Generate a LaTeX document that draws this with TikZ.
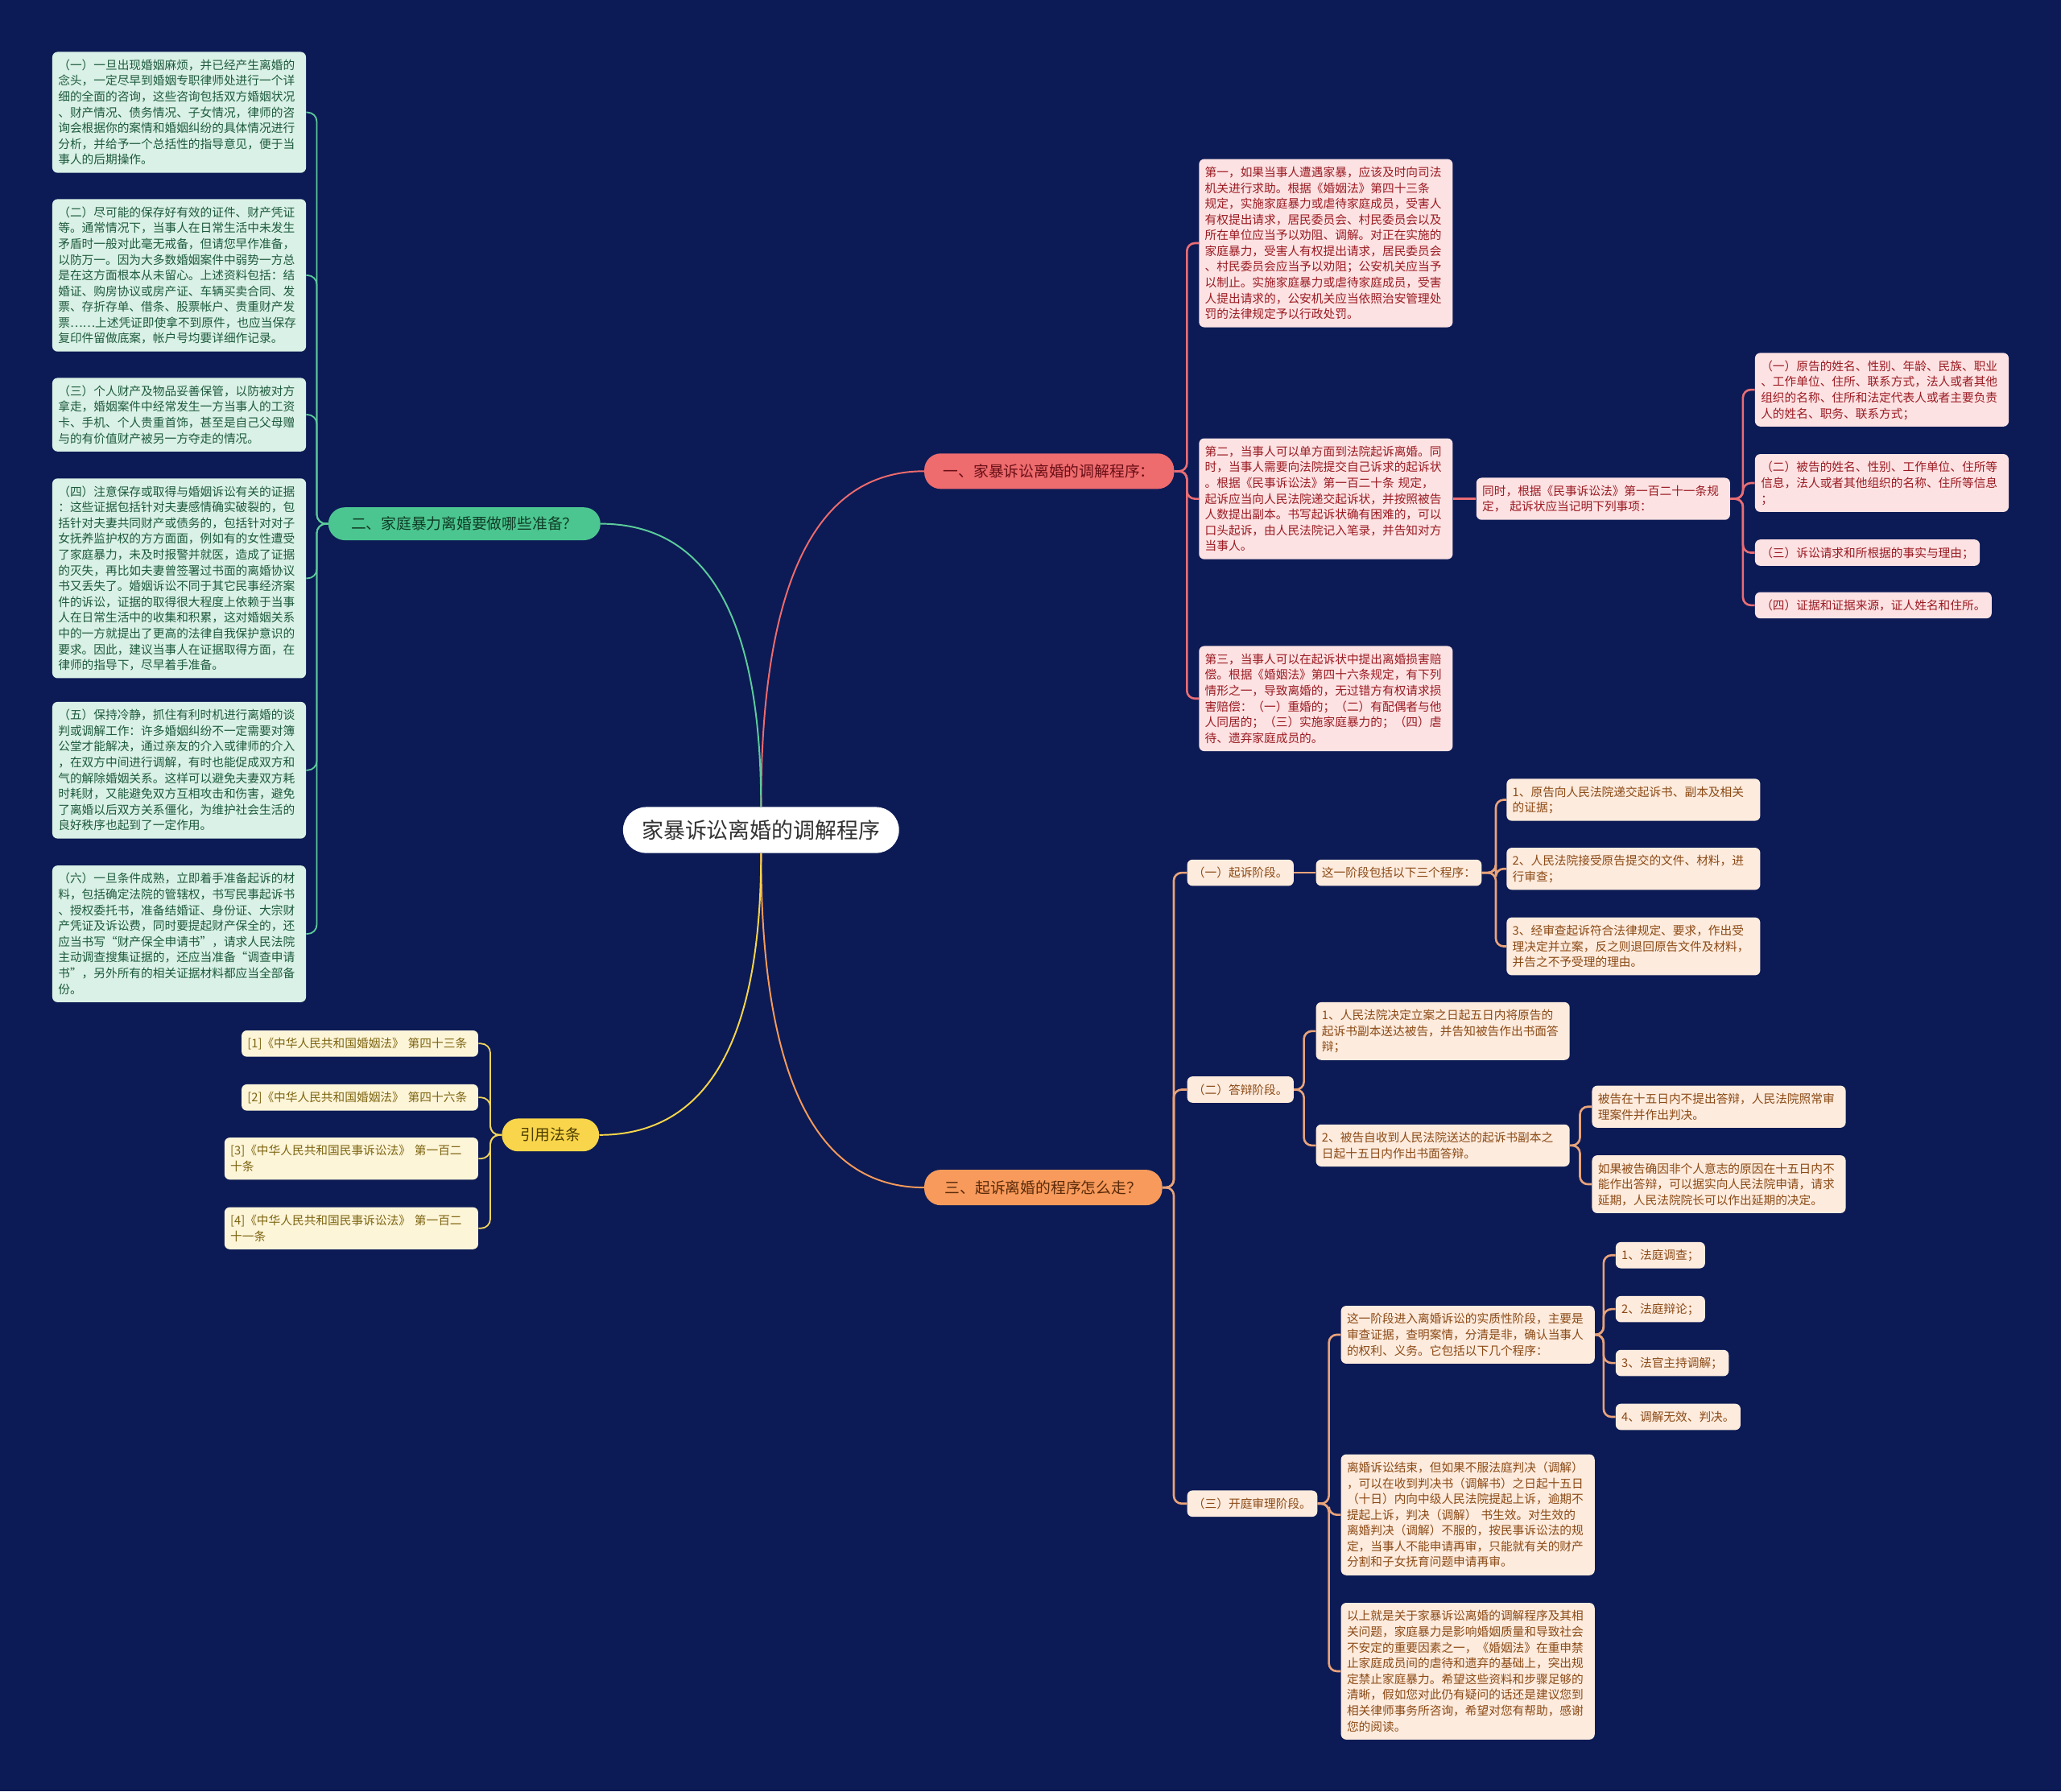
\documentclass[tikz,border=0pt]{standalone}
\usepackage{fontspec}
\setmainfont{Noto Sans CJK SC}
\usetikzlibrary{calc}
\definecolor{bg}{HTML}{0C1B55}
\definecolor{roottext}{HTML}{333333}
\definecolor{redmain}{HTML}{EE6B6E}
\definecolor{redbt}{HTML}{6A0F16}
\definecolor{greenmain}{HTML}{4CC690}
\definecolor{greenbt}{HTML}{0F3D27}
\definecolor{orangemain}{HTML}{F79A5B}
\definecolor{orangebt}{HTML}{5A2A0A}
\definecolor{yellowmain}{HTML}{F8D54A}
\definecolor{yellowbt}{HTML}{4D3D00}
\definecolor{rfill}{HTML}{FDE2E3}
\definecolor{rtext}{HTML}{9A1B22}
\definecolor{gfill}{HTML}{D9F1E6}
\definecolor{gtext}{HTML}{1E5A3D}
\definecolor{ofill}{HTML}{FDEBDD}
\definecolor{otext}{HTML}{8B4A16}
\definecolor{yfill}{HTML}{FDF5D8}
\definecolor{ytext}{HTML}{7D6512}
\definecolor{rline}{HTML}{E96D74}
\definecolor{gline}{HTML}{5CCB9B}
\definecolor{oline}{HTML}{E9A37A}
\definecolor{yline}{HTML}{F3D45B}
\newcommand{\boxstrut}{\rule[-2.6pt]{0pt}{12pt}}
\begin{document}
\begin{tikzpicture}[x=1pt,y=-1pt,
  rootnode/.style={fill=white, text=roottext, rounded corners=17.5pt, minimum width=210pt, minimum height=35pt, inner sep=0pt, font=\fontsize{16.5}{19}\selectfont},
  branch/.style={rounded corners=12.5pt, minimum height=25pt, inner sep=0pt, font=\fontsize{11.5}{14}\selectfont},
  box/.style={rounded corners=4pt, inner xsep=4.5pt, inner ysep=4pt, font=\fontsize{9}{12}\selectfont, align=left, execute at begin node=\boxstrut, execute at end node=\boxstrut},
  wbox/.style={box, text width=184pt},
  gbox/.style={fill=gfill, text=gtext},
  rbox/.style={fill=rfill, text=rtext},
  obox/.style={fill=ofill, text=otext},
  ybox/.style={fill=yfill, text=ytext},
  rootline/.style={line width=1.2pt},
  gconn/.style={draw=gline, line width=1.1pt, rounded corners=7pt},
  yconn/.style={draw=yline, line width=1.1pt, rounded corners=7pt},
  rconn/.style={draw=rline, line width=1.6pt, rounded corners=6pt},
  oconn/.style={draw=oline, line width=1.6pt, rounded corners=6pt}
]
\fill[bg] (0,0) rectangle (1568,1363);
\useasboundingbox (0,0) rectangle (1568,1363);

% root and main branches
\node[rootnode] (root) at (579,631.5) {家暴诉讼离婚的调解程序};
\node[branch, fill=redmain, text=redbt, minimum width=190pt, minimum height=27pt, anchor=west] (b1) at (703,358.5) {一、家暴诉讼离婚的调解程序：};
\node[branch, fill=greenmain, text=greenbt, minimum width=207pt, anchor=east] (b2) at (457,398.5) {二、家庭暴力离婚要做哪些准备？};
\node[branch, fill=orangemain, text=orangebt, minimum width=181pt, minimum height=27pt, anchor=west] (b3) at (703,903.5) {三、起诉离婚的程序怎么走？};
\node[branch, fill=yellowmain, text=yellowbt, minimum width=74pt, anchor=east] (b4) at (456,863.5) {引用法条};

% green children
\node[wbox, gbox, anchor=east] (g1) at (233,85.5) {（一）一旦出现婚姻麻烦，并已经产生离婚的\\念头，一定尽早到婚姻专职律师处进行一个详\\细的全面的咨询，这些咨询包括双方婚姻状况\\、财产情况、债务情况、子女情况，律师的咨\\询会根据你的案情和婚姻纠纷的具体情况进行\\分析，并给予一个总括性的指导意见，便于当\\事人的后期操作。};
\node[wbox, gbox, anchor=east] (g2) at (233,209.5) {（二）尽可能的保存好有效的证件、财产凭证\\等。通常情况下，当事人在日常生活中未发生\\矛盾时一般对此毫无戒备，但请您早作准备，\\以防万一。因为大多数婚姻案件中弱势一方总\\是在这方面根本从未留心。上述资料包括：结\\婚证、购房协议或房产证、车辆买卖合同、发\\票、存折存单、借条、股票帐户、贵重财产发\\票……上述凭证即使拿不到原件，也应当保存\\复印件留做底案，帐户号均要详细作记录。};
\node[wbox, gbox, anchor=east] (g3) at (233,315.5) {（三）个人财产及物品妥善保管，以防被对方\\拿走，婚姻案件中经常发生一方当事人的工资\\卡、手机、个人贵重首饰，甚至是自己父母赠\\与的有价值财产被另一方夺走的情况。};
\node[wbox, gbox, anchor=east] (g4) at (233,440) {（四）注意保存或取得与婚姻诉讼有关的证据\\：这些证据包括针对夫妻感情确实破裂的，包\\括针对夫妻共同财产或债务的，包括针对对子\\女抚养监护权的方方面面，例如有的女性遭受\\了家庭暴力，未及时报警并就医，造成了证据\\的灭失，再比如夫妻曾签署过书面的离婚协议\\书又丢失了。婚姻诉讼不同于其它民事经济案\\件的诉讼，证据的取得很大程度上依赖于当事\\人在日常生活中的收集和积累，这对婚姻关系\\中的一方就提出了更高的法律自我保护意识的\\要求。因此，建议当事人在证据取得方面，在\\律师的指导下，尽早着手准备。};
\node[wbox, gbox, anchor=east] (g5) at (233,586) {（五）保持冷静，抓住有利时机进行离婚的谈\\判或调解工作：许多婚姻纠纷不一定需要对簿\\公堂才能解决，通过亲友的介入或律师的介入\\，在双方中间进行调解，有时也能促成双方和\\气的解除婚姻关系。这样可以避免夫妻双方耗\\时耗财，又能避免双方互相攻击和伤害，避免\\了离婚以后双方关系僵化，为维护社会生活的\\良好秩序也起到了一定作用。};
\node[wbox, gbox, anchor=east] (g6) at (233,710.5) {（六）一旦条件成熟，立即着手准备起诉的材\\料，包括确定法院的管辖权，书写民事起诉书\\、授权委托书，准备结婚证、身份证、大宗财\\产凭证及诉讼费，同时要提起财产保全的，还\\应当书写“财产保全申请书”，请求人民法院\\主动调查搜集证据的，还应当准备“调查申请\\书”，另外所有的相关证据材料都应当全部备\\份。};

% red children
\node[wbox, rbox, anchor=west] (r1) at (912,185) {第一，如果当事人遭遇家暴，应该及时向司法\\机关进行求助。根据《婚姻法》第四十三条\\规定，实施家庭暴力或虐待家庭成员，受害人\\有权提出请求，居民委员会、村民委员会以及\\所在单位应当予以劝阻、调解。对正在实施的\\家庭暴力，受害人有权提出请求，居民委员会\\、村民委员会应当予以劝阻；公安机关应当予\\以制止。实施家庭暴力或虐待家庭成员，受害\\人提出请求的，公安机关应当依照治安管理处\\罚的法律规定予以行政处罚。};
\node[wbox, rbox, anchor=west] (r2) at (912,379.5) {第二，当事人可以单方面到法院起诉离婚。同\\时，当事人需要向法院提交自己诉求的起诉状\\。根据《民事诉讼法》第一百二十条 规定，\\起诉应当向人民法院递交起诉状，并按照被告\\人数提出副本。书写起诉状确有困难的，可以\\口头起诉，由人民法院记入笔录，并告知对方\\当事人。};
\node[wbox, rbox, anchor=west] (r3) at (912,531.5) {第三，当事人可以在起诉状中提出离婚损害赔\\偿。根据《婚姻法》第四十六条规定，有下列\\情形之一，导致离婚的，无过错方有权请求损\\害赔偿：（一）重婚的；（二）有配偶者与他\\人同居的；（三）实施家庭暴力的；（四）虐\\待、遗弃家庭成员的。};
\node[wbox, rbox, anchor=west] (r2a) at (1123,379.5) {同时，根据《民事诉讼法》第一百二十一条规\\定， 起诉状应当记明下列事项：};
\node[wbox, rbox, anchor=west] (r2a1) at (1335,296.5) {（一）原告的姓名、性别、年龄、民族、职业\\、工作单位、住所、联系方式，法人或者其他\\组织的名称、住所和法定代表人或者主要负责\\人的姓名、职务、联系方式；};
\node[wbox, rbox, anchor=west] (r2a2) at (1335,367.5) {（二）被告的姓名、性别、工作单位、住所等\\信息，法人或者其他组织的名称、住所等信息\\；};
\node[box, rbox, anchor=west] (r2a3) at (1335,420.5) {（三）诉讼请求和所根据的事实与理由；};
\node[box, rbox, anchor=west] (r2a4) at (1335,460.5) {（四）证据和证据来源，证人姓名和住所。};

% orange children
\node[box, obox, anchor=west] (o1) at (903,664) {（一）起诉阶段。};
\node[box, obox, anchor=west] (o2) at (903,829) {（二）答辩阶段。};
\node[box, obox, anchor=west] (o3) at (903,1144) {（三）开庭审理阶段。};
\node[box, obox, anchor=west] (o1x) at (1001,664) {这一阶段包括以下三个程序：};
\node[wbox, obox, anchor=west] (o1a) at (1146,608.5) {1、原告向人民法院递交起诉书、副本及相关\\的证据；};
\node[wbox, obox, anchor=west] (o1b) at (1146,661) {2、人民法院接受原告提交的文件、材料，进\\行审查；};
\node[wbox, obox, anchor=west] (o1c) at (1146,720) {3、经审查起诉符合法律规定、要求，作出受\\理决定并立案，反之则退回原告文件及材料，\\并告之不予受理的理由。};
\node[wbox, obox, anchor=west] (o2a) at (1001,784.5) {1、人民法院决定立案之日起五日内将原告的\\起诉书副本送达被告，并告知被告作出书面答\\辩；};
\node[wbox, obox, anchor=west] (o2b) at (1001,871.5) {2、被告自收到人民法院送达的起诉书副本之\\日起十五日内作出书面答辩。};
\node[wbox, obox, anchor=west] (o2b1) at (1211,842) {被告在十五日内不提出答辩，人民法院照常审\\理案件并作出判决。};
\node[wbox, obox, anchor=west] (o2b2) at (1211,901) {如果被告确因非个人意志的原因在十五日内不\\能作出答辩，可以据实向人民法院申请，请求\\延期，人民法院院长可以作出延期的决定。};
\node[wbox, obox, anchor=west] (o3a) at (1020,1015.5) {这一阶段进入离婚诉讼的实质性阶段，主要是\\审查证据，查明案情，分清是非，确认当事人\\的权利、义务。它包括以下几个程序：};
\node[wbox, obox, anchor=west] (o3b) at (1020,1152.5) {离婚诉讼结束，但如果不服法庭判决（调解）\\，可以在收到判决书（调解书）之日起十五日\\（十日）内向中级人民法院提起上诉，逾期不\\提起上诉，判决（调解） 书生效。对生效的\\离婚判决（调解）不服的，按民事诉讼法的规\\定，当事人不能申请再审，只能就有关的财产\\分割和子女抚育问题申请再审。};
\node[wbox, obox, anchor=west] (o3c) at (1020,1271.5) {以上就是关于家暴诉讼离婚的调解程序及其相\\关问题，家庭暴力是影响婚姻质量和导致社会\\不安定的重要因素之一，《婚姻法》在重申禁\\止家庭成员间的虐待和遗弃的基础上，突出规\\定禁止家庭暴力。希望这些资料和步骤足够的\\清晰，假如您对此仍有疑问的话还是建议您到\\相关律师事务所咨询，希望对您有帮助，感谢\\您的阅读。};
\node[box, obox, anchor=west] (o3a1) at (1229,955) {1、法庭调查；};
\node[box, obox, anchor=west] (o3a2) at (1229,996) {2、法庭辩论；};
\node[box, obox, anchor=west] (o3a3) at (1229,1037) {3、法官主持调解；};
\node[box, obox, anchor=west] (o3a4) at (1229,1078) {4、调解无效、判决。};

% yellow children
\node[box, ybox, text width=171pt, anchor=east] (y1) at (364,794) {[1]《中华人民共和国婚姻法》 第四十三条};
\node[box, ybox, text width=171pt, anchor=east] (y2) at (364,835) {[2]《中华人民共和国婚姻法》 第四十六条};
\node[wbox, ybox, anchor=east] (y3) at (364,881.5) {[3]《中华人民共和国民事诉讼法》 第一百二\\十条};
\node[wbox, ybox, anchor=east] (y4) at (364,934.5) {[4]《中华人民共和国民事诉讼法》 第一百二\\十一条};

% spine coordinates
\coordinate (sg) at (241,0);
\coordinate (sy) at (373,0);
\coordinate (sr) at (903,0);
\coordinate (sr2) at (1326,0);
\coordinate (so) at (893,0);
\coordinate (so1) at (1138,0);
\coordinate (so2) at (992,0);
\coordinate (so2b) at (1202,0);
\coordinate (so3) at (1011,0);
\coordinate (so3a) at (1220,0);

% root curves
\draw[rootline, draw=redmain] (root.north) .. controls ($(root.north)!0.667!(root.north |- b1.west)$) and ($(b1.west)!0.667!(root.north |- b1.west)$) .. (b1.west);
\draw[rootline, draw=gline] (root.north) .. controls ($(root.north)!0.667!(root.north |- b2.east)$) and ($(b2.east)!0.667!(root.north |- b2.east)$) .. (b2.east);
\draw[rootline, draw=orangemain] (root.south) .. controls ($(root.south)!0.667!(root.south |- b3.west)$) and ($(b3.west)!0.667!(root.south |- b3.west)$) .. (b3.west);
\draw[rootline, draw=yellowmain] (root.south) .. controls ($(root.south)!0.667!(root.south |- b4.east)$) and ($(b4.east)!0.667!(root.south |- b4.east)$) .. (b4.east);

% green connectors
\foreach \c in {g1,g2,g3,g4,g5,g6}
  \draw[gconn] (b2.west) -- (b2.west -| sg) |- (\c.east);
% yellow connectors
\foreach \c in {y1,y2,y3,y4}
  \draw[yconn] (b4.west) -- (b4.west -| sy) |- (\c.east);
% red connectors
\foreach \c in {r1,r2,r3}
  \draw[rconn] (b1.east) -- (b1.east -| sr) |- (\c.west);
\draw[rconn] (r2.east) -- (r2.east -| r2a.west);
\foreach \c in {r2a1,r2a2,r2a3,r2a4}
  \draw[rconn] (r2a.east) -- (r2a.east -| sr2) |- (\c.west);
% orange connectors
\foreach \c in {o1,o2,o3}
  \draw[oconn] (b3.east) -- (b3.east -| so) |- (\c.west);
\draw[oconn] (o1.east) -- (o1.east -| o1x.west);
\foreach \c in {o1a,o1b,o1c}
  \draw[oconn] (o1x.east) -- (o1x.east -| so1) |- (\c.west);
\foreach \c in {o2a,o2b}
  \draw[oconn] (o2.east) -- (o2.east -| so2) |- (\c.west);
\foreach \c in {o2b1,o2b2}
  \draw[oconn] (o2b.east) -- (o2b.east -| so2b) |- (\c.west);
\foreach \c in {o3a,o3b,o3c}
  \draw[oconn] (o3.east) -- (o3.east -| so3) |- (\c.west);
\foreach \c in {o3a1,o3a2,o3a3,o3a4}
  \draw[oconn] (o3a.east) -- (o3a.east -| so3a) |- (\c.west);
\end{tikzpicture}
\end{document}
